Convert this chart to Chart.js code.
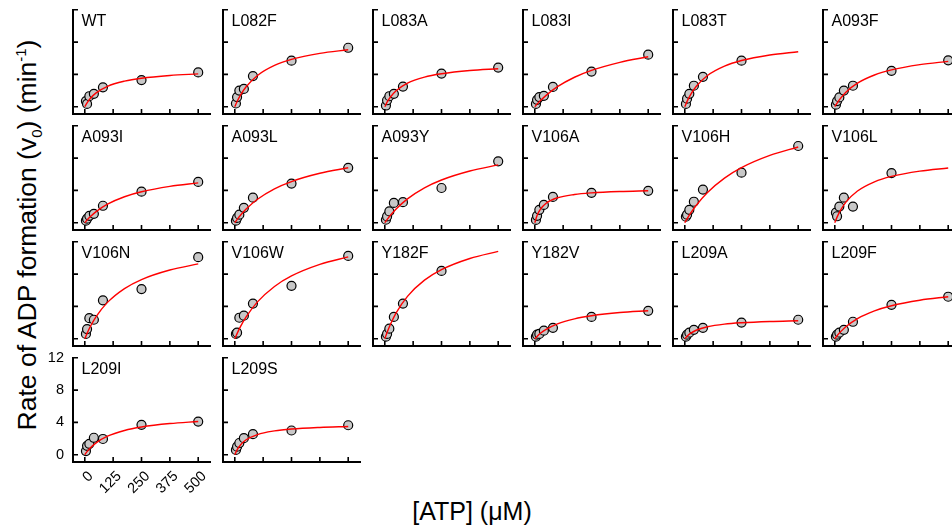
<!DOCTYPE html>
<html>
<head>
<meta charset="utf-8">
<title>ATP kinetics by mutant</title>
<script src="https://cdn.jsdelivr.net/npm/chart.js@4.4.1/dist/chart.umd.min.js"></script>
<style>
    html, body { margin: 0; padding: 0; background: #fff; }
    #stage {
        position: relative;
        width: 952px;
        height: 528px;
        overflow: hidden;
        font-family: "Liberation Sans", Arial, sans-serif;
        color: #000;
    }
    #stage canvas { position: absolute; }
    .panel-name {
        position: absolute;
        font-size: 16px;
        line-height: 16px;
        white-space: nowrap;
    }
    .y-title, .x-title {
        position: absolute;
        white-space: nowrap;
        transform-origin: center;
    }
    .y-title {
        left: 27px;
        top: 235px;
        font-size: 26.5px;
        line-height: 26px;
        transform: translate(-50%, -50%) rotate(-90deg);
    }
    .x-title {
        left: 472px;
        top: 511px;
        font-size: 25px;
        line-height: 25px;
        transform: translate(-50%, -50%);
    }
    .y-title sub, .y-title sup { font-size: 15px; line-height: 0; }
</style>
</head>
<body>
<div id="stage">
    <div class="y-title">Rate of ADP formation (v<sub>0</sub>) (min<sup>-1</sup>)</div>
    <div class="x-title">[ATP] (μM)</div>
</div>

<script>
/* ── Data ─────────────────────────────────────────────── */
const mutants = [
    'WT', 'L082F', 'L083A', 'L083I', 'L083T', 'A093F',
    'A093I', 'A093L', 'A093Y', 'V106A', 'V106H', 'V106L',
    'V106N', 'V106W', 'Y182F', 'Y182V', 'L209A', 'L209F',
    'L209I', 'L209S'
];

// [ATP] of the measured points (µM)
const concentrations = [5, 10, 20, 40, 80, 250, 500];

// measured rates, one row per mutant, same order as concentrations
const rates = [
    [0.7, 0.35, 1.3, 1.6, 2.4, 3.3, 4.25],
    [0.4, 1.2, 2.0, 2.2, 3.8, 5.7, 7.3],
    [0.15, 0.8, 1.3, 1.6, 2.5, 4.1, 4.85],
    [0.35, 0.85, 1.2, 1.35, 2.45, 4.35, 6.45],
    [0.35, 1.0, 1.6, 2.6, 3.7, 5.7, null],
    [0.25, 0.7, 1.15, 2.0, 2.6, 4.45, 5.75],
    [0.25, 0.5, 0.85, 1.1, 2.1, 3.85, 5.05],
    [0.25, 0.6, 1.0, 1.85, 3.1, 4.85, 6.8],
    [0.37, 0.78, 1.4, 2.45, 2.55, 4.3, 7.6],
    [0.35, 0.85, 1.6, 2.2, 3.2, 3.7, 3.95],
    [0.75, 1.0, 1.6, 2.6, 4.1, 6.2, 9.5],
    [1.25, 0.8, 2.0, 3.1, 2.0, 6.15, null],
    [0.6, 1.2, 2.55, 2.35, 4.75, 6.15, 10.1],
    [0.6, 0.75, 2.6, 2.85, 4.35, 6.55, 10.25],
    [0.25, 0.6, 1.25, 2.7, 4.35, 8.4, null],
    [0.25, 0.5, 0.6, 1.0, 1.35, 2.7, 3.45],
    [0.25, 0.5, 0.75, 1.1, 1.35, 2.0, 2.35],
    [0.25, 0.5, 0.75, 1.1, 2.1, 4.2, 5.2],
    [0.45, 1.1, 1.35, 2.1, 1.95, 3.7, 4.1],
    [0.6, 1.0, 1.45, 2.05, 2.55, 3.0, 3.65]
];

// fitted curve (red) at these [ATP] values
const curveConc = [0, 10, 25, 50, 100, 175, 250, 375, 500];
const fits = [
    [0, 0.48, 1.04, 1.71, 2.53, 3.17, 3.53, 3.87, 4.07],
    [0, 0.64, 1.44, 2.47, 3.87, 5.11, 5.86, 6.61, 7.06],
    [0, 0.56, 1.21, 1.98, 2.92, 3.67, 4.08, 4.48, 4.70],
    [0, 0.32, 0.76, 1.41, 2.48, 3.65, 4.50, 5.50, 6.19],
    [0, 0.66, 1.48, 2.51, 3.87, 5.03, 5.72, 6.40, 6.81],
    [0, 0.46, 1.04, 1.83, 2.92, 3.93, 4.56, 5.21, 5.62],
    [0, 0.33, 0.77, 1.38, 2.30, 3.22, 3.83, 4.50, 4.93],
    [0, 0.39, 0.93, 1.70, 2.91, 4.20, 5.10, 6.12, 6.80],
    [0, 0.39, 0.93, 1.71, 2.96, 4.32, 5.29, 6.40, 7.16],
    [0, 0.89, 1.69, 2.42, 3.09, 3.50, 3.70, 3.87, 3.96],
    [0, 0.48, 1.15, 2.14, 3.75, 5.53, 6.82, 8.33, 9.38],
    [0, 0.69, 1.53, 2.58, 3.93, 5.07, 5.74, 6.39, 6.77],
    [0, 0.66, 1.54, 2.74, 4.50, 6.21, 7.33, 8.51, 9.26],
    [0, 0.63, 1.49, 2.70, 4.56, 6.47, 7.77, 9.20, 10.14],
    [0, 0.77, 1.79, 3.20, 5.25, 7.25, 8.55, 9.93, 10.81],
    [0, 0.29, 0.67, 1.16, 1.84, 2.46, 2.84, 3.24, 3.47],
    [0, 0.31, 0.66, 1.05, 1.48, 1.81, 1.98, 2.14, 2.23],
    [0, 0.37, 0.85, 1.51, 2.50, 3.46, 4.09, 4.77, 5.20],
    [0, 0.38, 0.86, 1.47, 2.29, 3.00, 3.43, 3.86, 4.12],
    [0, 0.60, 1.21, 1.85, 2.50, 2.95, 3.18, 3.38, 3.50]
];

const xTicks = [0, 125, 250, 375, 500];
const yTicks = [0, 4, 8, 12];

/* ── Layout ───────────────────────────────────────────── */
const COLS = 6;
const PLOT_W = 137, PLOT_H = 105;
const STEP_X = 150, STEP_Y = 116;
const ORIGIN_X = 73, ORIGIN_Y = 9;
const PAD = { left: 40, right: 10, top: 10, bottom: 45 };
const LABELLED = 'L209I';

// axis lines + inward ticks, tick labels only on one panel
const panelAxes = {
    id: 'panelAxes',
    afterDatasetsDraw(chart, args, opts) {
        const { ctx, chartArea: a, scales: { x, y } } = chart;
        ctx.save();
        ctx.strokeStyle = '#000';
        ctx.lineWidth = 2;
        ctx.lineCap = 'square';
        ctx.beginPath();
        ctx.moveTo(a.left, a.top + 1);
        ctx.lineTo(a.left, a.bottom);
        ctx.lineTo(a.right, a.bottom);
        ctx.stroke();

        ctx.lineCap = 'butt';
        ctx.lineWidth = 1.6;
        ctx.beginPath();
        xTicks.forEach(v => {
            const px = x.getPixelForValue(v);
            ctx.moveTo(px, a.bottom);
            ctx.lineTo(px, a.bottom - 5);
        });
        yTicks.forEach(v => {
            const py = y.getPixelForValue(v);
            ctx.moveTo(a.left, py);
            ctx.lineTo(a.left + 5, py);
        });
        ctx.stroke();

        if (opts.labels) {
            ctx.fillStyle = '#000';
            ctx.font = '14.5px "Liberation Sans", Arial, sans-serif';
            ctx.textAlign = 'right';
            ctx.textBaseline = 'middle';
            yTicks.forEach(v => {
                ctx.fillText(String(v), a.left - 9, y.getPixelForValue(v));
            });
            xTicks.forEach(v => {
                const px = x.getPixelForValue(v);
                ctx.save();
                ctx.translate(px + 6, a.bottom + 12);
                ctx.rotate(-Math.PI / 4);
                ctx.fillText(String(v), 0, 0);
                ctx.restore();
            });
        }
        ctx.restore();
    }
};

const stage = document.getElementById('stage');

mutants.forEach((name, i) => {
    const col = i % COLS, row = Math.floor(i / COLS);
    const left = ORIGIN_X + col * STEP_X;
    const top = ORIGIN_Y + row * STEP_Y;

    const canvas = document.createElement('canvas');
    canvas.width = PLOT_W + PAD.left + PAD.right;
    canvas.height = PLOT_H + PAD.top + PAD.bottom;
    canvas.style.left = (left - PAD.left) + 'px';
    canvas.style.top = (top - PAD.top) + 'px';
    stage.appendChild(canvas);

    const label = document.createElement('div');
    label.className = 'panel-name';
    label.textContent = name;
    label.style.left = (left + 8.5) + 'px';
    label.style.top = (top + 4) + 'px';
    stage.appendChild(label);

    new Chart(canvas, {
        type: 'scatter',
        data: {
            datasets: [
                {
                    type: 'line',
                    data: curveConc.map((c, k) => ({ x: c, y: fits[i][k] })),
                    borderColor: '#ff0000',
                    borderWidth: 1.4,
                    pointRadius: 0,
                    fill: false,
                    cubicInterpolationMode: 'monotone',
                    clip: false,
                    order: 0,
                },
                {
                    data: concentrations.map((c, k) => ({ x: c, y: rates[i][k] })),
                    backgroundColor: '#c8c8c8',
                    borderColor: '#000',
                    borderWidth: 1.2,
                    pointRadius: 4.5,
                    clip: false,
                    order: 1,
                }
            ]
        },
        plugins: [panelAxes],
        options: {
            responsive: false,
            animation: false,
            events: [],
            devicePixelRatio: 1,
            layout: { padding: PAD },
            plugins: {
                legend: { display: false },
                tooltip: { enabled: false },
                panelAxes: { labels: name === LABELLED },
            },
            scales: {
                x: { type: 'linear', min: -52, max: 552, display: false },
                y: { type: 'linear', min: -0.9, max: 12.1, display: false },
            }
        }
    });
});
</script>
</body>
</html>
